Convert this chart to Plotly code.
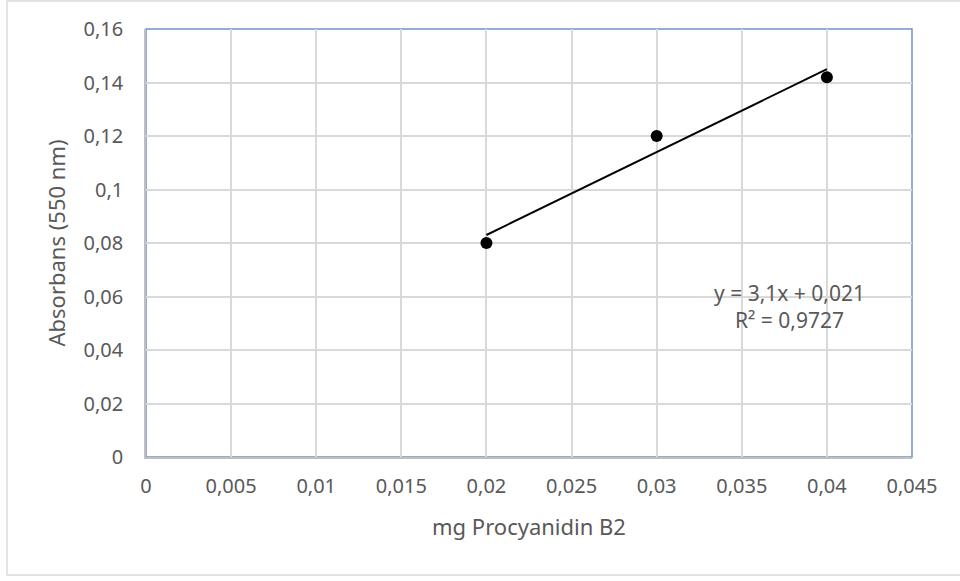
import numpy as np
import plotly.graph_objects as go

# Calibration data: procyanidin B2 amount vs. absorbance at 550 nm
mg_procyanidin = [0.02, 0.03, 0.04]
absorbance = [0.080, 0.120, 0.142]

x_tick_vals = [0, 0.005, 0.01, 0.015, 0.02, 0.025, 0.03, 0.035, 0.04, 0.045]
x_tick_text = ["0", "0,005", "0,01", "0,015", "0,02", "0,025", "0,03", "0,035", "0,04", "0,045"]
y_tick_vals = [0, 0.02, 0.04, 0.06, 0.08, 0.1, 0.12, 0.14, 0.16]
y_tick_text = ["0", "0,02", "0,04", "0,06", "0,08", "0,1", "0,12", "0,14", "0,16"]

# Linear least-squares trendline
slope, intercept = np.polyfit(mg_procyanidin, absorbance, 1)
pred = slope * np.array(mg_procyanidin) + intercept
ss_res = np.sum((np.array(absorbance) - pred) ** 2)
ss_tot = np.sum((np.array(absorbance) - np.mean(absorbance)) ** 2)
r2 = 1 - ss_res / ss_tot

x_line = [min(mg_procyanidin), max(mg_procyanidin)]
y_line = [slope * v + intercept for v in x_line]

def comma(v, nd):
    return f"{v:.{nd}f}".replace(".", ",")

eq_text = f"y = {comma(slope, 1)}x + {comma(intercept, 3)}<br>R² = {comma(r2, 4)}"

FONT = "Noto Sans"
GREY = "#595959"
TICK_SIZE = 20
TITLE_SIZE = 22

fig = go.Figure()
fig.add_trace(go.Scatter(
    x=x_line, y=y_line, mode="lines",
    line=dict(color="black", width=2), hoverinfo="skip", showlegend=False,
))
fig.add_trace(go.Scatter(
    x=mg_procyanidin, y=absorbance, mode="markers",
    marker=dict(color="black", size=12), showlegend=False,
))

fig.add_annotation(
    x=0.0378, y=0.0561, xref="x", yref="y", text=eq_text, showarrow=False,
    font=dict(family=FONT, size=21, color=GREY), align="center",
)

# plot-area frame (top/right edges in blue) and outer chart border
fig.add_shape(type="rect", xref="paper", yref="paper", x0=0, x1=1, y0=0, y1=1,
              line=dict(color="#6F93C9", width=1.5), layer="below")
fig.add_shape(type="rect", xref="paper", yref="paper",
              x0=-139 / 766, x1=1 + 52 / 766, y0=-118 / 428, y1=1 + 28 / 428,
              line=dict(color="#D9D9D9", width=1.5))

fig.update_layout(
    width=960, height=581,
    margin=dict(l=146, r=48, t=29, b=124),
    paper_bgcolor="white", plot_bgcolor="white",
    font=dict(family=FONT, color=GREY, size=TICK_SIZE),
    xaxis=dict(
        range=[0, 0.045], tickvals=x_tick_vals, ticktext=x_tick_text,
        showgrid=True, gridcolor="#D9D9D9", gridwidth=1.5,
        showline=True, linecolor="#BFBFBF", linewidth=1.5,
        zeroline=False, ticks="", ticklabelstandoff=10,
        tickfont=dict(size=TICK_SIZE, color=GREY),
        title=dict(text="mg Procyanidin B2", font=dict(size=TITLE_SIZE, color=GREY), standoff=22),
    ),
    yaxis=dict(
        range=[0, 0.16], tickvals=y_tick_vals, ticktext=y_tick_text,
        showgrid=True, gridcolor="#D9D9D9", gridwidth=1.5,
        showline=True, linecolor="#BFBFBF", linewidth=1.5,
        zeroline=False, ticks="", ticklabelstandoff=17,
        tickfont=dict(size=TICK_SIZE, color=GREY),
        title=dict(text="Absorbans (550 nm)", font=dict(size=TITLE_SIZE, color=GREY), standoff=12),
    ),
)

fig.write_html("out.html")
